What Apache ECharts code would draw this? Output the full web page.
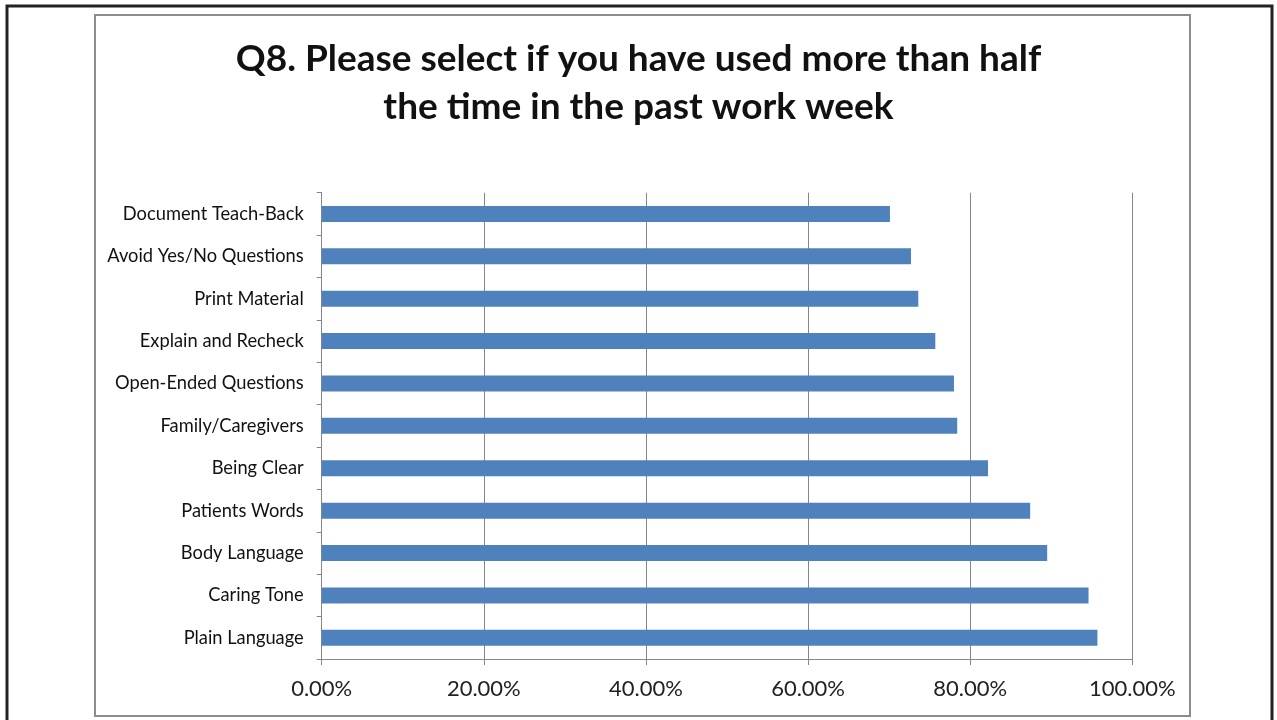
<!DOCTYPE html>
<html>
<head>
<meta charset="utf-8">
<script src="https://cdn.jsdelivr.net/npm/echarts@6/dist/echarts.min.js"></script>
<style>html,body{margin:0;padding:0;background:#fff;}#c{width:1277px;height:720px;}</style>
</head>
<body>
<div id="c"></div>
<script>
var titleText = 'Q8. Please select if you have used more than half\nthe time in the past work week';
var categories = ['Document Teach-Back','Avoid Yes/No Questions','Print Material','Explain and Recheck','Open-Ended Questions','Family/Caregivers','Being Clear','Patients Words','Body Language','Caring Tone','Plain Language'];
var values = [70.1, 72.7, 73.6, 75.7, 78.0, 78.4, 82.2, 87.4, 89.5, 94.6, 95.7];
var xTicks = [0, 20, 40, 60, 80, 100];

var chart = echarts.init(document.getElementById('c'), null, {renderer: 'canvas'});
chart.setOption({
  backgroundColor: '#fff',
  animation: false,
  title: {
    text: titleText,
    left: 'center',
    top: 30,
    textStyle: {fontFamily: 'Lato', fontWeight: 'bold', fontSize: 37, lineHeight: 48, color: '#111'}
  },
  graphic: [
    {type: 'rect', shape: {x: 7, y: 6, width: 1265, height: 720}, style: {fill: 'none', stroke: '#222', lineWidth: 3}, silent: true},
    {type: 'rect', shape: {x: 95, y: 15, width: 1095, height: 701}, style: {fill: 'none', stroke: '#8c8c8c', lineWidth: 2}, silent: true}
  ],
  grid: {left: 321.7, right: 144.7, top: 192.7, bottom: 61, containLabel: false},
  xAxis: {
    type: 'value', min: 0, max: 100, interval: 20,
    axisLine: {show: true, lineStyle: {color: '#868686', width: 1}},
    axisTick: {show: true, length: 6, lineStyle: {color: '#868686'}},
    splitLine: {show: true, lineStyle: {color: '#868686', width: 1}},
    axisLabel: {fontFamily: 'Lato', fontSize: 22, color: '#222', margin: 19,
      formatter: function (v) { return xTicks.indexOf(v) >= 0 ? v.toFixed(2) + '%' : ''; }}
  },
  yAxis: {
    type: 'category', data: categories, inverse: true,
    axisLine: {show: true, lineStyle: {color: '#868686', width: 1}},
    axisTick: {show: true, length: 5, lineStyle: {color: '#868686'}},
    splitLine: {show: false},
    axisLabel: {fontFamily: 'Lato', fontSize: 18.3, color: '#111', margin: 18}
  },
  series: [{
    type: 'bar', data: values, barWidth: 16,
    itemStyle: {color: '#4F81BD'}
  }]
});
</script>
</body>
</html>
